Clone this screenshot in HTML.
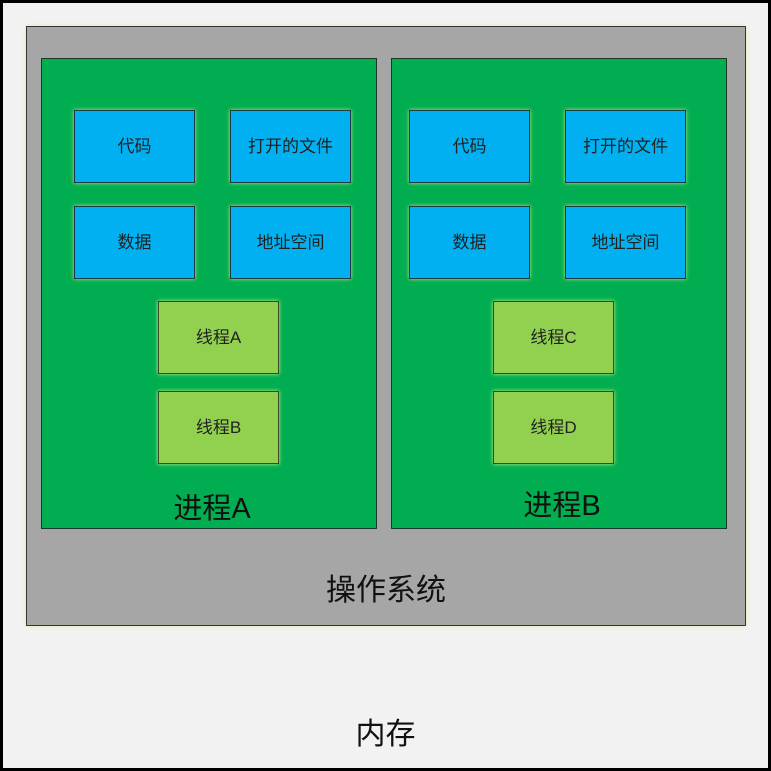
<!DOCTYPE html>
<html><head><style>
body{margin:0;width:771px;height:771px;overflow:hidden;background:#fff;font-family:"Liberation Sans","Noto Sans CJK SC",sans-serif}
div{position:absolute;box-sizing:border-box}
.b{background:#00b0f0;border:1px solid #1f3b4a;box-shadow:0 0 4px #b6e07a;display:flex;align-items:center;justify-content:center;font-size:17px;color:#222;padding-bottom:4px}
.t{background:#92d050;border:1px solid #3b4a22;box-shadow:0 0 4px #c8f08a;display:flex;align-items:center;justify-content:center;font-size:17px;color:#222;padding-bottom:4px}
.g{background:#00ad50;border:1px solid #1b3a26}
.l{text-align:center;color:#111}
</style></head><body>
<div style="left:0;top:0;width:771px;height:771px;background:#f2f2f2;border:3px solid #000"></div>
<div style="left:26px;top:26px;width:720px;height:600px;background:#a6a6a6;border:1px solid #333;box-shadow:0 0 4px #d8f0a0"></div>
<div class="g" style="left:41px;top:58px;width:336px;height:471px"></div>
<div class="g" style="left:391px;top:58px;width:336px;height:471px"></div>
<div class="b" style="left:74px;top:110px;width:121px;height:73px">代码</div>
<div class="b" style="left:230px;top:110px;width:121px;height:73px">打开的文件</div>
<div class="b" style="left:74px;top:206px;width:121px;height:73px">数据</div>
<div class="b" style="left:230px;top:206px;width:121px;height:73px">地址空间</div>
<div class="t" style="left:158px;top:301px;width:121px;height:73px">线程A</div>
<div class="t" style="left:158px;top:391px;width:121px;height:73px">线程B</div>
<div class="b" style="left:409px;top:110px;width:121px;height:73px">代码</div>
<div class="b" style="left:565px;top:110px;width:121px;height:73px">打开的文件</div>
<div class="b" style="left:409px;top:206px;width:121px;height:73px">数据</div>
<div class="b" style="left:565px;top:206px;width:121px;height:73px">地址空间</div>
<div class="t" style="left:493px;top:301px;width:121px;height:73px">线程C</div>
<div class="t" style="left:493px;top:391px;width:121px;height:73px">线程D</div>
<div class="l" style="left:41px;top:489px;width:342px;font-size:29px;line-height:40px">进程A</div>
<div class="l" style="left:391px;top:486px;width:342px;font-size:29px;line-height:40px">进程B</div>
<div class="l" style="left:26px;top:570px;width:720px;font-size:30px;line-height:42px">操作系统</div>
<div class="l" style="left:0;top:714px;width:771px;font-size:30px;line-height:42px">内存</div>
</body></html>
